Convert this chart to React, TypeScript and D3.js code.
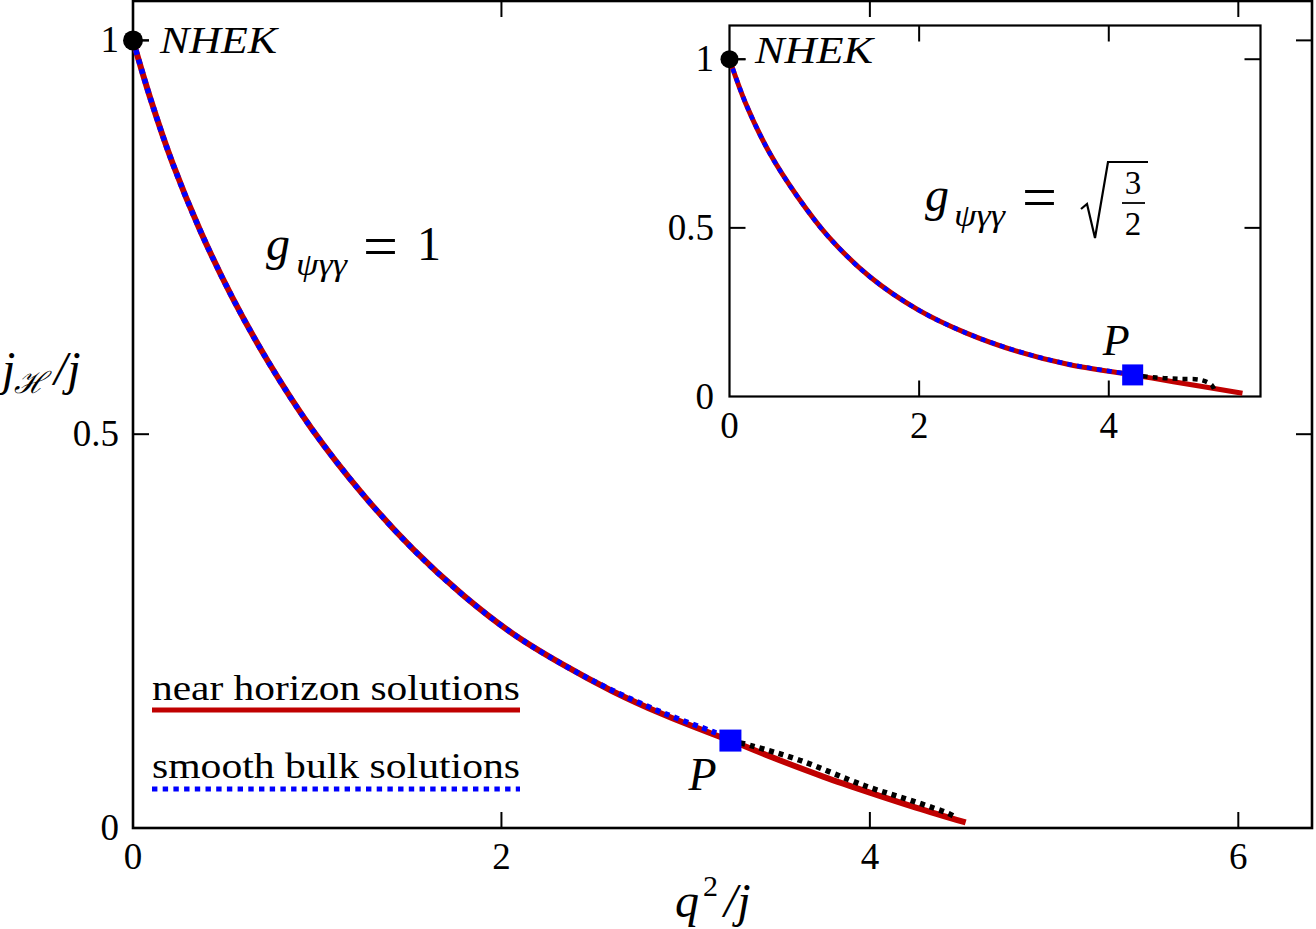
import React from "react";
import * as d3 from "d3";

const W = 1316,
  H = 929;

// g_psi = 1 : near-horizon branch (red), smooth bulk branch (blue) up to P,
// second bulk branch past P (black)
const mainNearQ = [0, 0.092, 0.215, 0.364, 0.536, 0.734, 0.97, 1.25, 1.52, 1.79, 2.06, 2.33, 2.6, 2.88, 3.15, 3.243, 3.51, 3.75, 4.0, 4.25, 4.52];
const mainNearJ = [1, 0.928, 0.844, 0.759, 0.675, 0.592, 0.507, 0.423, 0.354, 0.296, 0.247, 0.208, 0.174, 0.144, 0.119, 0.111, 0.086, 0.065, 0.045, 0.026, 0.007];
const mainBulkQ = [0, 0.092, 0.215, 0.364, 0.536, 0.734, 0.97, 1.25, 1.52, 1.79, 2.06, 2.33, 2.6, 2.88, 3.15, 3.243];
const mainBulkJ = [1, 0.928, 0.844, 0.759, 0.675, 0.592, 0.507, 0.423, 0.354, 0.296, 0.247, 0.208, 0.175, 0.146, 0.122, 0.113];
const mainBranchQ = [3.243, 3.365, 3.619, 3.98, 4.25, 4.43, 4.47];
const mainBranchJ = [0.111, 0.104, 0.086, 0.053, 0.033, 0.018, 0.013];
const mainP = [3.243, 0.111];

// g_psi = sqrt(3/2)
const insetNearQ = [0, 0.171, 0.425, 0.716, 1.043, 1.48, 1.99, 2.499, 3.045, 3.59, 4.252, 4.68, 5.41];
const insetNearJ = [1, 0.869, 0.721, 0.593, 0.474, 0.355, 0.257, 0.188, 0.133, 0.094, 0.064, 0.044, 0.0095];
const insetBulkQ = [0, 0.171, 0.425, 0.716, 1.043, 1.48, 1.99, 2.499, 3.045, 3.59, 4.252];
const insetBulkJ = [1, 0.869, 0.721, 0.593, 0.474, 0.355, 0.257, 0.188, 0.134, 0.095, 0.065];
const insetBranchQ = [4.252, 4.5, 4.75, 4.97, 5.086, 5.12];
const insetBranchJ = [0.064, 0.056, 0.052, 0.049, 0.034, 0.014];
const insetP = [4.252, 0.064];

const nhek = [0, 1];

const mainXTicks = [2, 4, 6];
const mainXLabels = [0, 2, 4, 6];
const mainYTicks = [0.5, 1];
const mainYLabels = [0, 0.5, 1];
const insetXTicks = [2, 4];
const insetXLabels = [0, 2, 4];
const insetYTicks = [0.5, 1];
const insetYLabels = [0, 0.5, 1];

const legendItems = ["near horizon solutions", "smooth bulk solutions"];

const RED = "#c00000";
const BLUE = "#0000ff";
const serif = "'Liberation Serif', 'DejaVu Serif', serif";

type Scale = d3.ScaleLinear<number, number>;

function curve(qs: number[], js: number[], sx: Scale, sy: Scale) {
  const pts: [number, number][] = qs.map((q, i) => [sx(q), sy(js[i])]);
  return d3.line().curve(d3.curveCatmullRom.alpha(0.5))(pts) || "";
}

function Frame(props: {
  sx: Scale;
  sy: Scale;
  xTicks: number[];
  yTicks: number[];
  xLabels: number[];
  yLabels: number[];
  xLabelBase: number;
  yLabelEnd: number;
  sw: number;
}) {
  const { sx, sy, xTicks, yTicks, xLabels, yLabels, xLabelBase, yLabelEnd, sw } = props;
  const [x0, x1] = sx.range();
  const [y0, y1] = sy.range();
  const tl = 16;
  return (
    <g>
      <rect x={x0} y={y1} width={x1 - x0} height={y0 - y1} fill="white" stroke="black" strokeWidth={sw} />
      {xTicks.map((t) => (
        <g key={"x" + t} stroke="black" strokeWidth={2}>
          <line x1={sx(t)} x2={sx(t)} y1={y0} y2={y0 - tl} />
          <line x1={sx(t)} x2={sx(t)} y1={y1} y2={y1 + tl} />
        </g>
      ))}
      {yTicks.map((t) => (
        <g key={"y" + t} stroke="black" strokeWidth={2}>
          <line x1={x0} x2={x0 + tl} y1={sy(t)} y2={sy(t)} />
          <line x1={x1} x2={x1 - tl} y1={sy(t)} y2={sy(t)} />
        </g>
      ))}
      {xLabels.map((t) => (
        <text key={"xl" + t} x={sx(t)} y={xLabelBase} textAnchor="middle" fontSize={37} fontFamily={serif}>
          {String(t)}
        </text>
      ))}
      {yLabels.map((t) => (
        <text key={"yl" + t} x={yLabelEnd} y={sy(t) + 12} textAnchor="end" fontSize={37} fontFamily={serif}>
          {String(t)}
        </text>
      ))}
    </g>
  );
}

function Curves(props: {
  sx: Scale;
  sy: Scale;
  near: [number[], number[]];
  bulk: [number[], number[]];
  branch: [number[], number[]];
  p: number[];
  width: number;
  square: number;
  dot: number;
}) {
  const { sx, sy, near, bulk, branch, p, width, square, dot } = props;
  return (
    <g fill="none">
      <path d={curve(near[0], near[1], sx, sy)} stroke={RED} strokeWidth={width} />
      <path d={curve(bulk[0], bulk[1], sx, sy)} stroke={BLUE} strokeWidth={width - 0.5} strokeDasharray="5,5" />
      <path d={curve(branch[0], branch[1], sx, sy)} stroke="black" strokeWidth={width - 0.5} strokeDasharray="5,5" />
      <rect x={sx(p[0]) - square / 2} y={sy(p[1]) - square / 2} width={square} height={square} fill={BLUE} />
      <circle cx={sx(nhek[0])} cy={sy(nhek[1])} r={dot} fill="black" />
      <line x1={sx(0)} x2={sx(0) + 16} y1={sy(1)} y2={sy(1)} stroke="black" strokeWidth={2} />
    </g>
  );
}

export default function App() {
  const x = d3.scaleLinear().domain([0, 6.4]).range([133, 1312]);
  const y = d3.scaleLinear().domain([0, 1.05]).range([828, 1]);
  const ix = d3.scaleLinear().domain([0, 5.6]).range([729.5, 1260.5]);
  const iy = d3.scaleLinear().domain([0, 1.1]).range([396.5, 25.5]);

  return (
    <svg width={W} height={H} style={{ position: "absolute", left: 0, top: 0, background: "white" }}>
      <rect width={W} height={H} fill="white" />

      {/* main panel */}
      <Frame sx={x} sy={y} xTicks={mainXTicks} yTicks={mainYTicks} xLabels={mainXLabels} yLabels={mainYLabels}
        xLabelBase={869} yLabelEnd={119} sw={2.6} />
      <Curves sx={x} sy={y} near={[mainNearQ, mainNearJ]} bulk={[mainBulkQ, mainBulkJ]}
        branch={[mainBranchQ, mainBranchJ]} p={mainP} width={6} square={22} dot={10} />

      <text x={160} y={53} fontSize={38} fontStyle="italic" fontFamily={serif} textLength={117} lengthAdjust="spacingAndGlyphs">NHEK</text>
      <text x={x(mainP[0]) - 42} y={790} fontSize={46} fontStyle="italic" fontFamily={serif}>P</text>

      {/* coupling label */}
      <g fontFamily={serif}>
        <text x={266} y={260} fontSize={48} fontStyle="italic">g</text>
        <text x={296} y={275} fontSize={31} fontStyle="italic" textLength={51} lengthAdjust="spacingAndGlyphs">ψγγ</text>
        <text x={363} y={267} fontSize={62}>=</text>
        <text x={429} y={260} fontSize={48} textAnchor="middle">1</text>
      </g>

      {/* legend */}
      <g fontFamily={serif} fontSize={36}>
        <text x={152} y={700} textLength={368} lengthAdjust="spacingAndGlyphs">{legendItems[0]}</text>
        <line x1={152} x2={520} y1={710} y2={710} stroke={RED} strokeWidth={5} />
        <text x={152} y={778} textLength={368} lengthAdjust="spacingAndGlyphs">{legendItems[1]}</text>
        <line x1={152} x2={520} y1={789} y2={789} stroke={BLUE} strokeWidth={5} strokeDasharray="5.4,5.3" />
      </g>

      {/* axis titles */}
      <g fontFamily={serif}>
        <text x={2} y={385} fontSize={48} fontStyle="italic">j</text>
        <text x={14} y={393} fontSize={30} fontFamily="'DejaVu Serif', serif" fontStyle="italic">ℋ</text>
        <text x={54} y={385} fontSize={48} fontStyle="italic">/j</text>
        <text x={675} y={917} fontSize={48} fontStyle="italic">q</text>
        <text x={703} y={896} fontSize={30}>2</text>
        <text x={724} y={917} fontSize={48} fontStyle="italic">/j</text>
      </g>

      {/* inset panel */}
      <Frame sx={ix} sy={iy} xTicks={insetXTicks} yTicks={insetYTicks} xLabels={insetXLabels} yLabels={insetYLabels}
        xLabelBase={438} yLabelEnd={714} sw={2.2} />
      <Curves sx={ix} sy={iy} near={[insetNearQ, insetNearJ]} bulk={[insetBulkQ, insetBulkJ]}
        branch={[insetBranchQ, insetBranchJ]} p={insetP} width={5} square={21} dot={9} />

      <text x={755} y={63} fontSize={38} fontStyle="italic" fontFamily={serif} textLength={118} lengthAdjust="spacingAndGlyphs">NHEK</text>
      <text x={ix(insetP[0]) - 30} y={355} fontSize={44} fontStyle="italic" fontFamily={serif}>P</text>

      <g fontFamily={serif}>
        <text x={925} y={211} fontSize={48} fontStyle="italic">g</text>
        <text x={954} y={226} fontSize={31} fontStyle="italic" textLength={51} lengthAdjust="spacingAndGlyphs">ψγγ</text>
        <text x={1022} y={218} fontSize={62}>=</text>
        <path d="M1081,209 L1087,204 L1095,238 L1108,162 L1148,162" fill="none" stroke="black" strokeWidth={2.2} />
        <text x={1133} y={194} fontSize={33} textAnchor="middle">3</text>
        <line x1={1122} x2={1145} y1={203} y2={203} stroke="black" strokeWidth={1.8} />
        <text x={1133} y={235} fontSize={33} textAnchor="middle">2</text>
      </g>
    </svg>
  );
}
